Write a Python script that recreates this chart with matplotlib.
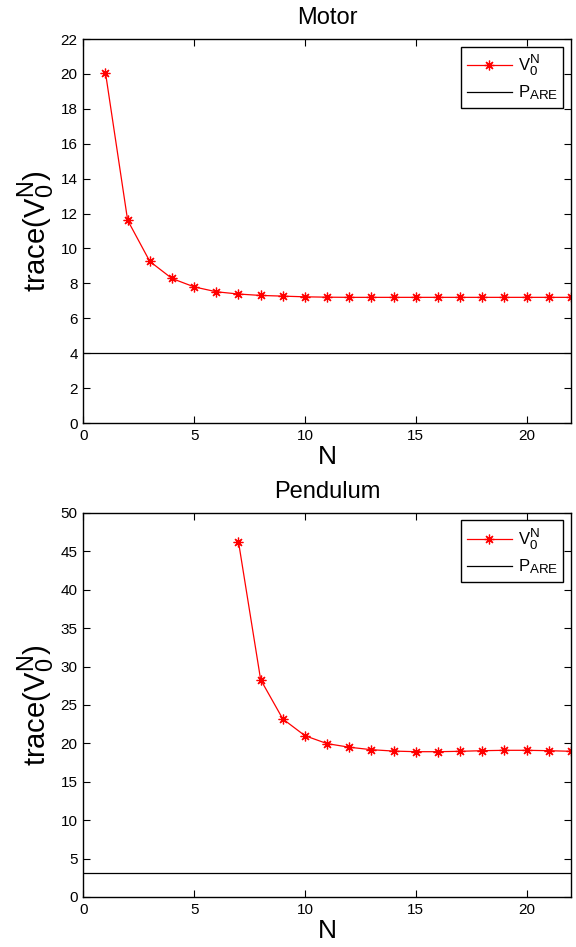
import matplotlib
matplotlib.use("Agg")
import matplotlib.pyplot as plt

plt.rcParams["font.family"] = ["Liberation Sans", "DejaVu Sans"]
plt.rcParams["mathtext.fontset"] = "custom"
plt.rcParams["mathtext.rm"] = "Liberation Sans"
plt.rcParams["mathtext.it"] = "Liberation Sans"
plt.rcParams["mathtext.bf"] = "Liberation Sans:bold"

# slightly larger sub/superscripts in mathtext labels
try:
    import matplotlib._mathtext as _mt
    _mt.SHRINK_FACTOR = 0.8
except Exception:
    pass

# Motor: trace of V_0^N over horizon length N
motor_N = list(range(1, 23))
motor_trace = [20.08, 11.62, 9.26, 8.28, 7.80, 7.52, 7.39, 7.31, 7.27, 7.23,
               7.21, 7.20, 7.20, 7.20, 7.20, 7.20, 7.20, 7.20, 7.20, 7.20,
               7.20, 7.20]
motor_pare = 4.04

# Pendulum: trace of V_0^N over horizon length N
pend_N = list(range(7, 23))
pend_trace = [46.27, 28.3, 23.18, 21.0, 19.97, 19.5, 19.18, 19.0, 18.92, 18.92,
              18.97, 19.05, 19.1, 19.1, 19.05, 18.97]
pend_pare = 3.17

titles = ["Motor", "Pendulum"]
xticks = [0, 5, 10, 15, 20]
yticks_list = [list(range(0, 23, 2)), list(range(0, 51, 5))]
ylims = [(0, 22), (0, 50)]

fig = plt.figure(figsize=(5.76, 9.47), dpi=100)
ax_rects = [[0.1446, 0.5533, 0.8467, 0.4055],
            [0.1446, 0.0528, 0.8467, 0.4055]]
series = [(motor_N, motor_trace, motor_pare), (pend_N, pend_trace, pend_pare)]

# eight-spoke asterisk marker
asterisk = (8, 2, 0)

for rect, title, (xs, ys, pare), yt, yl in zip(ax_rects, titles, series,
                                              yticks_list, ylims):
    ax = fig.add_axes(rect)
    ax.plot(xs, ys, color="red", linewidth=0.9, marker=asterisk, markersize=7,
            markeredgewidth=0.9, label=r"$\mathrm{V}_0^\mathrm{N}$")
    ax.axhline(pare, color="black", linewidth=0.9,
               label=r"$\mathrm{P}_{\mathrm{ARE}}$")
    ax.set_xlim(0, 22)
    ax.set_ylim(*yl)
    ax.set_xticks(xticks)
    ax.set_yticks(yt)
    ax.tick_params(direction="in", length=5, width=0.8, labelsize=11,
                   top=True, right=True, pad=4)
    for sp in ax.spines.values():
        sp.set_linewidth(1.0)
    ax.set_title(title, fontsize=17, pad=11)
    ax.set_xlabel("N", fontsize=19, labelpad=2)
    ax.set_ylabel(r"trace$(\mathrm{V}_0^\mathrm{N})$", fontsize=21,
                  labelpad=3)
    leg = ax.legend(loc="upper right", fontsize=12, fancybox=False,
                    edgecolor="black", framealpha=1, handlelength=2.7,
                    handletextpad=0.35, borderaxespad=0.45, borderpad=0.35,
                    labelspacing=0.35)
    leg.get_frame().set_linewidth(1.0)

fig.savefig("out.png", dpi=100)
